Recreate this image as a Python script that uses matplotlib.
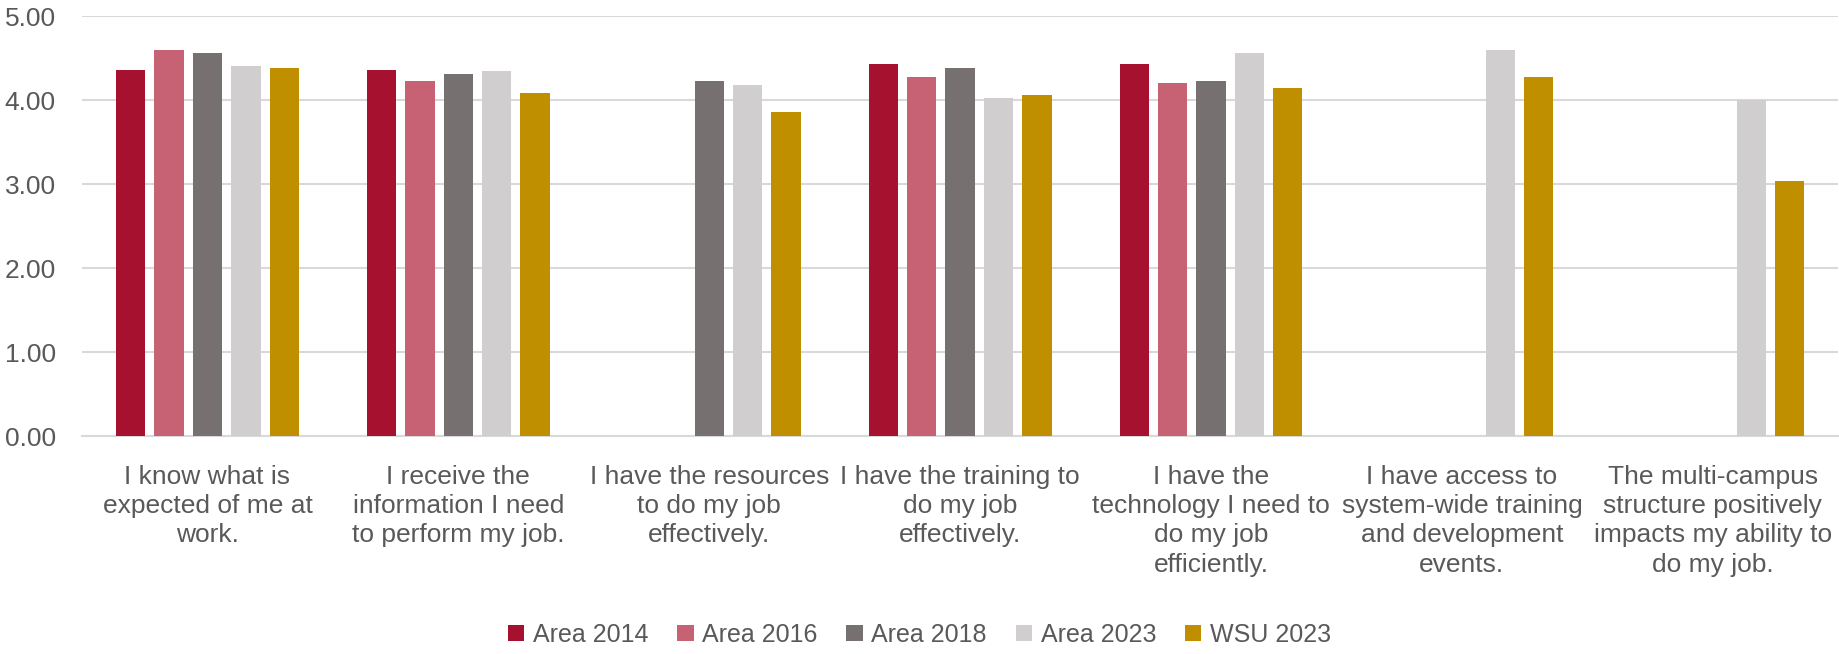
import numpy as np
import matplotlib
matplotlib.use("Agg")
import matplotlib.pyplot as plt

plt.rcParams['font.family'] = ['Liberation Sans', 'DejaVu Sans']

categories = [
    "I know what is\nexpected of me at\nwork.",
    "I receive the\ninformation I need\nto perform my job.",
    "I have the resources\nto do my job\neffectively.",
    "I have the training to\ndo my job\neffectively.",
    "I have the\ntechnology I need to\ndo my job\nefficiently.",
    "I have access to\nsystem-wide training\nand development\nevents.",
    "The multi-campus\nstructure positively\nimpacts my ability to\ndo my job.",
]
nan = np.nan
area_2014 = [4.36, 4.36, nan, 4.43, 4.43, nan, nan]
area_2016 = [4.60, 4.23, nan, 4.28, 4.20, nan, nan]
area_2018 = [4.56, 4.31, 4.23, 4.38, 4.23, nan, nan]
area_2023 = [4.41, 4.35, 4.18, 4.03, 4.56, 4.59, 4.00]
wsu_2023 = [4.38, 4.08, 3.86, 4.06, 4.14, 4.28, 3.04]

series = [
    ("Area 2014", area_2014, "#A6112F"),
    ("Area 2016", area_2016, "#C66274"),
    ("Area 2018", area_2018, "#767170"),
    ("Area 2023", area_2023, "#D0CECE"),
    ("WSU 2023", wsu_2023, "#BF8F00"),
]

fig = plt.figure(figsize=(18.39, 6.54), dpi=100)
ax = fig.add_axes([0.0446, 0.3333, 0.955, 0.6422])

x = np.arange(len(categories))
step = 0.153
width = 0.117
for k, (name, vals, col) in enumerate(series):
    ax.bar(x + (k - 2) * step, vals, width, color=col, label=name, zorder=3)

ax.set_xlim(-0.5, len(categories) - 0.5)
ax.set_ylim(0, 5)
ax.set_yticks(np.arange(0, 5.01, 1))
ax.set_yticklabels([f"{v:.2f}" for v in np.arange(0, 5.01, 1)])
ax.yaxis.grid(True, color="#D9D9D9", linewidth=1.5, zorder=0)
ax.set_xticks(x)
ax.set_xticklabels(categories, linespacing=1.27)
ax.tick_params(axis='both', length=0, labelsize=19, colors="#595959")
ax.tick_params(axis='x', pad=21)
ax.tick_params(axis='y', pad=19)
for s in ['top', 'right', 'left']:
    ax.spines[s].set_visible(False)
ax.spines['bottom'].set_color("#D9D9D9")
ax.spines['bottom'].set_linewidth(1.5)

fig.legend(loc='lower center', bbox_to_anchor=(0.5, -0.012), ncol=5, frameon=False,
           fontsize=18, handlelength=0.65, handleheight=0.65, handletextpad=0.35,
           columnspacing=1.15, borderpad=0.1, labelcolor="#595959")

fig.savefig("out.png", dpi=100)
